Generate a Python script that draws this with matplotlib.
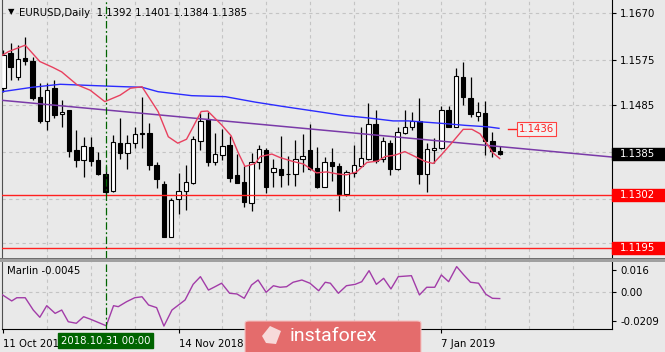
import matplotlib
matplotlib.use('Agg')
import matplotlib.pyplot as plt
from matplotlib.patches import Rectangle, Polygon, FancyBboxPatch
from matplotlib.transforms import blended_transform_factory

# ---------------- data ----------------
opens = [1.1518, 1.1590, 1.1541, 1.1580, 1.1574, 1.1501, 1.1452, 1.1518, 1.1465, 1.1474,
         1.1393, 1.1373, 1.1400, 1.1373, 1.1345, 1.1310, 1.1408, 1.1387, 1.1408, 1.1427,
         1.1427, 1.1363, 1.1325, 1.1218, 1.1294, 1.1311, 1.1327, 1.1412, 1.1455, 1.1370,
         1.1383, 1.1403, 1.1343, 1.1329, 1.1287, 1.1368, 1.1393, 1.1349, 1.1354, 1.1345,
         1.1344, 1.1376, 1.1393, 1.1356, 1.1319, 1.1370, 1.1361, 1.1304, 1.1347, 1.1361,
         1.1376, 1.1445, 1.1376, 1.1408, 1.1354, 1.1427, 1.1440, 1.1452, 1.1344, 1.1393,
         1.1397, 1.1474, 1.1440, 1.1541, 1.1498, 1.1461, 1.1467, 1.1411, 1.1392]
highs = [1.1595, 1.1610, 1.1605, 1.1622, 1.1581, 1.1528, 1.1528, 1.1535, 1.1494, 1.1474,
         1.1434, 1.1420, 1.1419, 1.1390, 1.1361, 1.1424, 1.1457, 1.1424, 1.1439, 1.1501,
         1.1448, 1.1370, 1.1331, 1.1296, 1.1347, 1.1363, 1.1422, 1.1467, 1.1471, 1.1427,
         1.1435, 1.1422, 1.1385, 1.1360, 1.1388, 1.1403, 1.1397, 1.1376, 1.1422, 1.1381,
         1.1413, 1.1426, 1.1446, 1.1400, 1.1380, 1.1397, 1.1366, 1.1353, 1.1403, 1.1440,
         1.1489, 1.1474, 1.1420, 1.1413, 1.1439, 1.1474, 1.1471, 1.1498, 1.1408, 1.1417,
         1.1482, 1.1482, 1.1558, 1.1572, 1.1541, 1.1491, 1.1493, 1.1430, 1.1401]
lows = [1.1510, 1.1535, 1.1535, 1.1565, 1.1494, 1.1448, 1.1434, 1.1457, 1.1439, 1.1380,
        1.1358, 1.1338, 1.1361, 1.1342, 1.1304, 1.1309, 1.1376, 1.1354, 1.1397, 1.1397,
        1.1353, 1.1316, 1.1217, 1.1217, 1.1264, 1.1272, 1.1325, 1.1393, 1.1360, 1.1363,
        1.1373, 1.1329, 1.1326, 1.1279, 1.1269, 1.1354, 1.1306, 1.1319, 1.1318, 1.1323,
        1.1321, 1.1349, 1.1353, 1.1316, 1.1318, 1.1331, 1.1270, 1.1300, 1.1338, 1.1360,
        1.1373, 1.1366, 1.1368, 1.1343, 1.1353, 1.1426, 1.1434, 1.1325, 1.1309, 1.1366,
        1.1395, 1.1439, 1.1439, 1.1484, 1.1459, 1.1452, 1.1383, 1.1380, 1.1384]
closes = [1.1585, 1.1560, 1.1578, 1.1573, 1.1498, 1.1452, 1.1514, 1.1464, 1.1471, 1.1392,
          1.1374, 1.1402, 1.1372, 1.1345, 1.1309, 1.1409, 1.1388, 1.1407, 1.1426, 1.1425,
          1.1363, 1.1335, 1.1218, 1.1292, 1.1311, 1.1329, 1.1415, 1.1452, 1.1370, 1.1385,
          1.1401, 1.1336, 1.1327, 1.1289, 1.1368, 1.1395, 1.1319, 1.1356, 1.1343, 1.1344,
          1.1376, 1.1381, 1.1354, 1.1318, 1.1368, 1.1361, 1.1304, 1.1348, 1.1362, 1.1378,
          1.1446, 1.1371, 1.1411, 1.1354, 1.1430, 1.1440, 1.1452, 1.1344, 1.1395, 1.1397,
          1.1474, 1.1440, 1.1543, 1.1501, 1.1466, 1.1469, 1.1412, 1.1392, 1.1385]

# short moving average (red), bar position / value
red_pos = [-0.1, 0.7, 3.0, 5.0, 6.8, 8.0, 10.1, 11.9, 13.9, 16.0, 17.4, 19.0, 21.2, 22.6,
           23.9, 25.1, 26.0, 27.1, 28.0, 29.9, 31.2, 32.2, 33.1, 34.5, 35.2, 36.8, 37.9,
           39.7, 41.1, 42.9, 44.3, 45.7, 47.0, 48.4, 49.8, 51.3, 52.3, 53.7, 55.0, 56.4,
           57.8, 58.9, 60.1, 61.4, 63.0, 64.2, 65.3, 66.2, 67.1, 68.0]
red_val = [1.1585, 1.1592, 1.1605, 1.1572, 1.1560, 1.1551, 1.1525, 1.1514, 1.1491, 1.1504,
           1.1518, 1.1521, 1.1471, 1.1420, 1.1407, 1.1415, 1.1440, 1.1471, 1.1472, 1.1444,
           1.1422, 1.1387, 1.1360, 1.1366, 1.1380, 1.1385, 1.1378, 1.1370, 1.1365, 1.1347,
           1.1349, 1.1345, 1.1343, 1.1349, 1.1368, 1.1371, 1.1380, 1.1383, 1.1390, 1.1380,
           1.1370, 1.1366, 1.1385, 1.1407, 1.1435, 1.1435, 1.1426, 1.1407, 1.1387, 1.1376]

# long moving average (blue)
blue_pos = [-0.2, 4.0, 7.8, 13.0, 16.7, 19.0, 21.2, 25.8, 30.4, 34.5, 38.4, 43.0, 46.6,
            50.0, 53.4, 55.5, 60.1, 63.3, 66.4, 67.9]
blue_val = [1.1511, 1.1520, 1.1526, 1.1523, 1.1521, 1.1520, 1.1511, 1.1503, 1.1501, 1.1490,
            1.1481, 1.1471, 1.1463, 1.1458, 1.1452, 1.1452, 1.1447, 1.1443, 1.1440, 1.1437]

# trend line (purple)
trend_pos = [-0.45, 83.4]
trend_val = [1.1494, 1.1379]

# Marlin oscillator
marlin_pos = [-0.1, 1.15, 1.85, 3.0, 4.1, 5.0, 5.95, 7.1, 8.0, 8.9, 10.0, 11.0, 11.9, 14.1,
              15.1, 15.75, 16.9, 18.0, 19.0, 19.9, 21.0, 22.0, 23.1, 24.0, 24.9, 26.0, 27.0,
              28.1, 29.0, 29.9, 31.0, 32.0, 33.0, 34.0, 34.9, 36.0, 37.0, 37.9, 38.8, 39.7,
              40.9, 42.0, 43.2, 44.1, 44.8, 45.9, 47.0, 48.2, 49.1, 50.1, 51.1, 52.1, 53.1,
              54.1, 55.9, 57.0, 58.0, 59.1, 60.0, 61.0, 62.1, 63.0, 64.0, 65.1, 66.1, 67.0, 68.0]
marlin_val = [-0.0019, -0.0062, -0.0039, -0.0039, -0.0127, -0.0179, -0.0096, -0.0151, -0.0127,
              -0.0211, -0.0222, -0.0175, -0.0192, -0.0240, -0.0096, -0.0103, -0.0067, -0.0039,
              -0.0032, -0.0091, -0.0110, -0.0242, -0.0127, -0.0091, -0.0055, 0.0057, 0.0112,
              0.0016, 0.0040, 0.0065, -0.0007, -0.0012, -0.0043, 0.0052, 0.0088, 0.0000,
              0.0047, 0.0036, 0.0040, 0.0072, 0.0088, 0.0065, 0.0011, 0.0072, 0.0065, -0.0007,
              0.0047, 0.0057, 0.0076, 0.0155, 0.0057, 0.0100, 0.0024, 0.0112, 0.0119, -0.0019,
              0.0036, 0.0036, 0.0124, 0.0076, 0.0184, 0.0129, 0.0072, 0.0065, -0.0014, -0.0043,
              -0.0045]

price_ticks = [1.1670, 1.1575, 1.1485, 1.1390, 1.1295, 1.1205]
price_tick_labels = ['1.1670', '1.1575', '1.1485', '', '', '']  # lower ones hidden by price boxes
marlin_ticks = [0.016, 0.0, -0.0209]
marlin_tick_labels = ['0.016', '0.00', '-0.0209']
date_pos = [0, 24, 60]
date_labels = ['11 Oct 2018', '14 Nov 2018', '7 Jan 2019']
grid_pos = list(range(6, 84, 6))
marker_pos = 14
marker_label = '2018.10.31 00:00'
level_lines = [1.1302, 1.1195]
last_close = 1.1385
target_level = 1.1436
symbol = 'EURUSD,Daily'
marlin_now = -0.0045

# ---------------- layout ----------------
W, H = 665, 352
BG = '#e9e9e9'
fig = plt.figure(figsize=(W / 100, H / 100), dpi=100, facecolor=BG)


def fx(px):
    return px / W


def fy(py):
    return 1 - py / H


plt.rcParams['font.family'] = ['DejaVu Sans']
FS = 7.3

ax = fig.add_axes([fx(2), fy(258), fx(612) - fx(2), fy(0) - fy(258)])
ax2 = fig.add_axes([fx(2), fy(329), fx(612) - fx(2), fy(262) - fy(329)], sharex=ax)
for a in (ax, ax2):
    a.set_facecolor(BG)
    a.set_xlim(-0.18, 83.38)
ax.set_ylim(1.1670 - 245 / 4950, 1.1670 + 13 / 4950)
ax2.set_ylim(-0.0263, 0.0217)

grid_kw = dict(color='#c4c4c4', lw=0.8, ls=(0, (3, 3)), zorder=0)
for a in (ax, ax2):
    for g in grid_pos:
        a.axvline(g, **grid_kw)
for p in price_ticks:
    ax.axhline(p, **grid_kw)
ax2.axhline(0.0, **grid_kw)

# candles
bw = 0.6
for i, (o, h, l, c) in enumerate(zip(opens, highs, lows, closes)):
    ax.vlines(i, l, h, color='black', lw=0.9, zorder=2)
    bull = c >= o
    lo, hi = min(o, c), max(o, c)
    ax.add_patch(Rectangle((i - bw / 2, lo), bw, max(hi - lo, 0.00008),
                           facecolor='white' if bull else 'black',
                           edgecolor='black', lw=0.8, zorder=3))

ax.plot(blue_pos, blue_val, color='#2b2bff', lw=1.0, zorder=4)
ax.plot(trend_pos, trend_val, color='#7a3aa8', lw=1.1, zorder=4)
ax.plot(red_pos, red_val, color='#e8405e', lw=1.0, zorder=5)
for lv in level_lines:
    ax.axhline(lv, color='#ff2020', lw=1.0, zorder=4)

for a in (ax, ax2):
    a.axvline(marker_pos, color='#006400', lw=0.9, ls=(0, (6, 2, 1.5, 2)), zorder=6)

ax2.plot(marlin_pos, marlin_val, color='#a23ca8', lw=1.0, zorder=4)

# axes styling
for a in (ax, ax2):
    a.spines['top'].set_visible(False)
    a.spines['left'].set_color('#505050')
    a.spines['right'].set_color('black')
    a.yaxis.tick_right()
    a.tick_params(axis='y', direction='out', length=3, pad=3, labelsize=FS, colors='black')
ax.spines['bottom'].set_visible(False)
ax.tick_params(axis='x', bottom=False, labelbottom=False)
ax.set_yticks(price_ticks)
ax.set_yticklabels(price_tick_labels)
ax2.set_yticks(marlin_ticks)
ax2.set_yticklabels(marlin_tick_labels)
ax2.set_xticks(date_pos)
ax2.set_xticklabels(date_labels)
ax2.tick_params(axis='x', direction='out', length=3, pad=4, labelsize=FS)
for t in ax2.get_xticklabels():
    t.set_ha('left')

# separator band between panels
fig.patches.append(Rectangle((0, fy(262)), 1, fy(258) - fy(262), transform=fig.transFigure,
                             facecolor='#a0a0a0', edgecolor='none'))
fig.patches.append(Rectangle((0, fy(258.6)), 1, 0.003, transform=fig.transFigure,
                             facecolor='#707070', edgecolor='none'))

# right price boxes
tr = blended_transform_factory(ax.transAxes, ax.transData)
bx0 = 1.0
bx1 = (665 - 2) / 610
hh = 11.5 / 4950
for val, fc in [(last_close, 'black'), (level_lines[0], '#ff0000'), (level_lines[1], '#ff0000')]:
    ax.add_patch(Rectangle((bx0, val - hh / 2), bx1 - bx0, hh, transform=tr,
                           facecolor=fc, edgecolor=fc, clip_on=False, zorder=10))
    ax.text((620 - 2) / 610, val, '%.4f' % val, transform=tr, color='white', fontsize=FS,
            ha='left', va='center', zorder=11, clip_on=False)

# target price label
ax.plot([69.2, 70.4], [target_level, target_level], color='#ff2020', lw=1.0, zorder=6)
ax.text(70.6, target_level, '%.4f' % target_level, color='#ff2020', fontsize=FS,
        ha='left', va='center', zorder=7,
        bbox=dict(boxstyle='square,pad=0.2', fc='#f2f2f2', ec='#ff4040', lw=0.8))

# header
fig.text(fx(8), fy(12), '\u25bc', fontsize=6, ha='left', va='center', color='black')
fig.text(fx(19), fy(12.5), '%s  %.4f %.4f %.4f %.4f' % (symbol, opens[-1], highs[-1], lows[-1], closes[-1]),
         fontsize=FS, ha='left', va='center', color='black')
fig.text(fx(7), fy(271), 'Marlin %.4f' % marlin_now, fontsize=FS, ha='left', va='center', color='black')

# highlighted date label
fig.text(fx(3.3 + marker_pos * 7.3), fy(340.5), marker_label, fontsize=FS, ha='center', va='center',
         color='white', zorder=20,
         bbox=dict(boxstyle='square,pad=0.25', fc='#006400', ec='#006400'))

# watermark box
fig.patches.append(FancyBboxPatch((fx(245), fy(356)), fx(421) - fx(245), fy(321) - fy(356),
                                  boxstyle='round,pad=0,rounding_size=0.006',
                                  transform=fig.transFigure, facecolor='#e46c6c',
                                  edgecolor='#f4c0c0', lw=0.8, zorder=30))
fig.patches.append(Polygon([(fx(262), fy(336)), (fx(270), fy(326)), (fx(281), fy(331)),
                            (fx(276), fy(344)), (fx(266), fy(343))], closed=True,
                           transform=fig.transFigure, facecolor='#f7dada', edgecolor='none', zorder=31))
fig.text(fx(290), fy(336), 'instaforex', fontsize=14, family=['Roboto', 'DejaVu Sans'],
         color='white', ha='left', va='center', zorder=32)

fig.savefig('out.png', dpi=100, facecolor=BG)
